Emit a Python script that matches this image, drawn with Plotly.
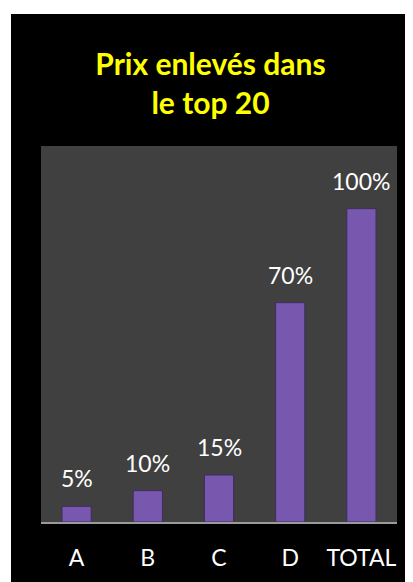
import plotly.graph_objects as go

categories = ["A", "B", "C", "D", "TOTAL"]
values = [5, 10, 15, 70, 100]
labels = ["5%", "10%", "15%", "70%", "100%"]
title_text = "Prix enlevés dans<br>le top 20"

# page body adds an 8px offset, so the figure is drawn 8px smaller
OFF = 8
W, H = 413 - OFF, 582 - OFF
L, R, T, B = 41 - OFF, 16, 146 - OFF, 60
pw, ph = W - L - R, H - T - B

def px_x(p):
    return (p - OFF - L) / pw

def px_y(p):
    return (H + OFF - B - p) / ph

fig = go.Figure()
fig.add_trace(go.Bar(
    x=categories, y=values,
    marker=dict(color="#7858ae", line=dict(color="#3e2c60", width=1)),
    width=0.41,
    hoverinfo="skip",
))

for c, v, t in zip(categories, values, labels):
    fig.add_annotation(x=c, y=v, text=t, showarrow=False, yanchor="middle",
                       yshift=28, font=dict(family="Lato", size=23, color="white"))

white = dict(fillcolor="white", line=dict(width=0), layer="below", xref="paper", yref="paper", type="rect")
shapes = [
    dict(x0=px_x(-20), x1=px_x(440), y0=px_y(-20), y1=px_y(14), **white),
    dict(x0=px_x(-20), x1=px_x(11), y0=px_y(-20), y1=px_y(600), **white),
]

fig.update_layout(
    width=W, height=H,
    margin=dict(l=L, r=R, t=T, b=B, pad=0),
    paper_bgcolor="black",
    plot_bgcolor="#404040",
    showlegend=False,
    shapes=shapes,
    title=dict(text=title_text, x=px_x(219), xanchor="center", y=1 - (75 - OFF) / H, yanchor="middle",
               font=dict(family="Lato", size=30, color="#ffff00", weight="bold")),
    bargap=0.59,
    xaxis=dict(showline=True, linecolor="#9a9a9a", linewidth=2, ticks="",
               tickfont=dict(family="Lato", size=23, color="white"), showgrid=False,
               ticklabelstandoff=14),
    yaxis=dict(range=[0, 120], visible=False, showgrid=False, zeroline=False),
)

fig.write_html("out.html")
